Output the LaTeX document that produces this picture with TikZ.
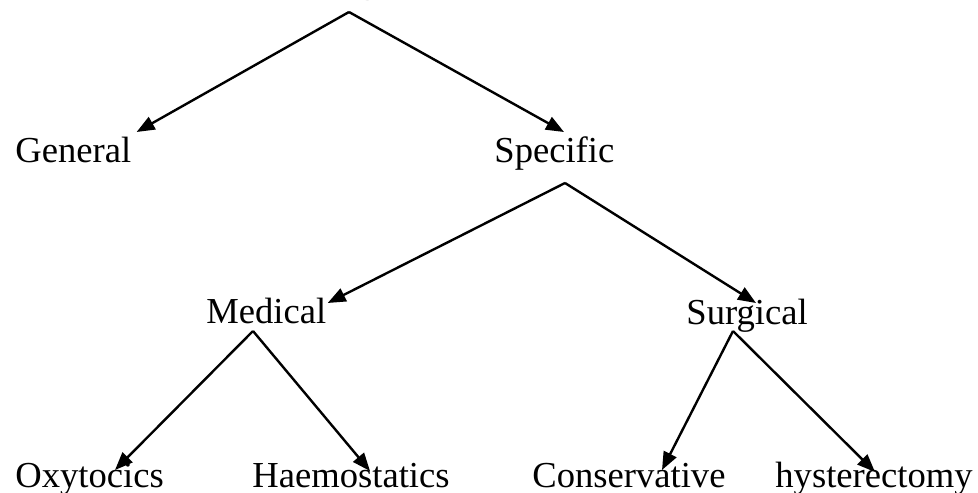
\documentclass[tikz,border=0pt]{standalone}
\usepackage{fontspec}
\setmainfont{Liberation Serif}
\usetikzlibrary{arrows.meta, calc}

\begin{document}
\begin{tikzpicture}[x=0.5pt, y=-0.5pt,
    term/.style={anchor=base west, inner sep=0pt, font=\fontsize{18.3}{22}\selectfont},
    arrow/.style={-{Triangle[length=9pt, width=7pt]}, line width=1.2pt, black}
  ]
  \clip (0,0) rectangle (978,492);

  \node[term, font=\fontsize{18.3}{22}\selectfont\bfseries] (title) at (267,-7) {Management};
  \coordinate (root) at (349,12);

  \node[term] (general) at (15,162) {General};
  \node[term] (specific) at (494,162) {Specific};
  \node[term] (medical) at (206,323) {Medical};
  \node[term] (surgical) at (686,324) {Surgical};
  \node[term] (oxytocics) at (15,487) {Oxytocics};
  \node[term] (haemostatics) at (252,487) {Haemostatics};
  \node[term] (conservative) at (532,487) {Conservative};
  \node[term] (hysterectomy) at (775,487) {hysterectomy};

  \coordinate (specific-fork) at ($(specific.base west)+(71,21)$);
  \coordinate (medical-fork) at ($(medical.base west)+(47,8)$);
  \coordinate (surgical-fork) at ($(surgical.base west)+(47,7)$);

  \draw[arrow] (root) -- ($(general.base east)+(5,-30)$);
  \draw[arrow] (root) -- ($(specific.base west)+(70,-30)$);
  \draw[arrow] (specific-fork) -- ($(medical.base east)+(1,-20)$);
  \draw[arrow] (specific-fork) -- ($(surgical.base west)+(70,-21)$);
  \draw[arrow] (medical-fork) -- ($(oxytocics.base west)+(100,-17)$);
  \draw[arrow] (medical-fork) -- ($(haemostatics.base west)+(118,-16)$);
  \draw[arrow] (surgical-fork) -- ($(conservative.base west)+(130,-17)$);
  \draw[arrow] (surgical-fork) -- ($(hysterectomy.base west)+(100,-15)$);
\end{tikzpicture}
\end{document}
